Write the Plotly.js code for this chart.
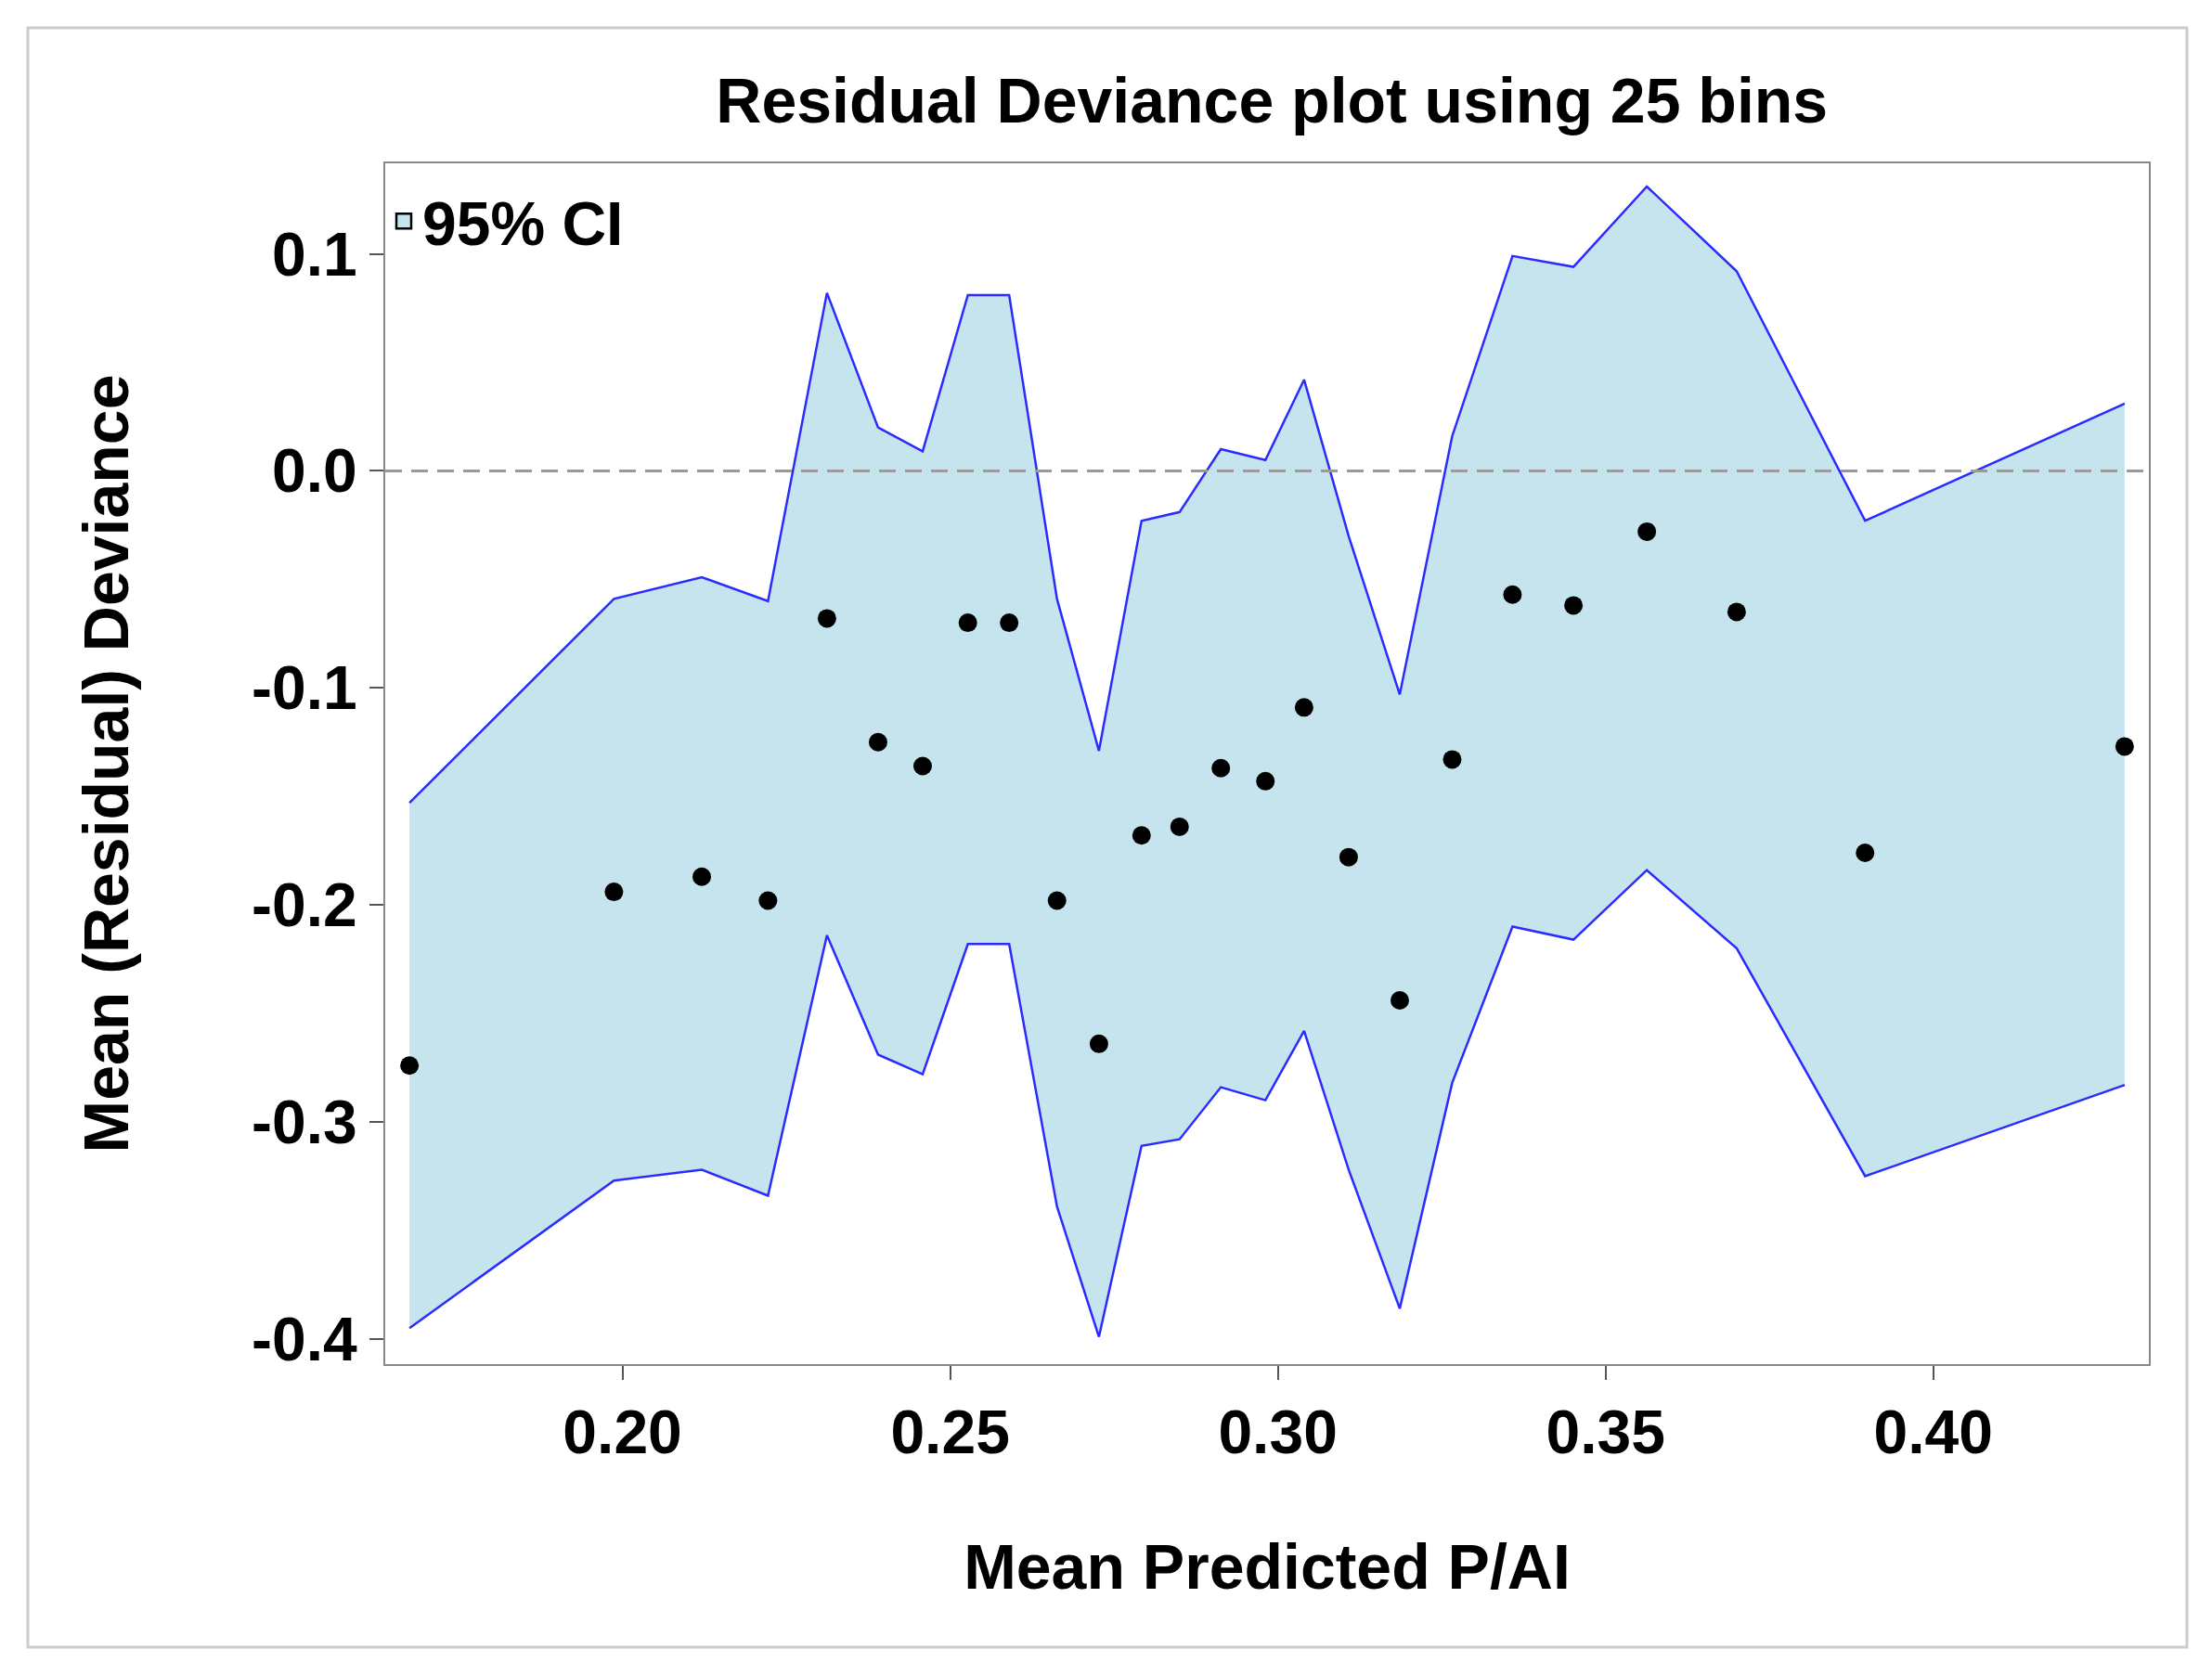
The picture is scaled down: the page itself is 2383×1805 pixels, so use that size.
<!DOCTYPE html>
<html><head><meta charset="utf-8">
<script src="https://cdn.plot.ly/plotly-3.0.1.min.js"></script>
<style>body{margin:0;background:#fff}#c{width:2383px;height:1805px}</style>
</head><body><div id="c"></div>
<script>
const meanPred=[0.1675,0.1987,0.2121,0.2222,0.2312,0.2390,0.2458,0.2527,0.2590,0.2663,0.2727,0.2792,0.2850,0.2913,0.2981,0.3040,0.3108,0.3186,0.3266,0.3358,0.3451,0.3563,0.3700,0.3896,0.4292];
const meanDev=[-0.274,-0.194,-0.187,-0.198,-0.068,-0.125,-0.136,-0.070,-0.070,-0.198,-0.264,-0.168,-0.164,-0.137,-0.143,-0.109,-0.178,-0.244,-0.133,-0.057,-0.062,-0.028,-0.065,-0.176,-0.127];
const upperCI=[-0.153,-0.059,-0.049,-0.060,0.082,0.020,0.009,0.081,0.081,-0.059,-0.129,-0.023,-0.019,0.010,0.005,0.042,-0.030,-0.103,0.016,0.099,0.094,0.131,0.092,-0.023,0.031];
const lowerCI=[-0.395,-0.327,-0.322,-0.334,-0.214,-0.269,-0.278,-0.218,-0.218,-0.339,-0.399,-0.311,-0.308,-0.284,-0.290,-0.258,-0.322,-0.386,-0.282,-0.210,-0.216,-0.184,-0.220,-0.325,-0.283];
const F='"Liberation Sans", Arial, sans-serif';
const data=[
 {x:meanPred,y:lowerCI,mode:'lines',line:{color:'#2b2bff',width:2.5},showlegend:false,hoverinfo:'skip'},
 {x:meanPred,y:upperCI,mode:'lines',fill:'tonexty',fillcolor:'#c6e4ee',line:{color:'#2b2bff',width:2.5},showlegend:false},
 {x:[null],y:[null],mode:'markers',marker:{symbol:'square',size:26,color:'#c6e4ee',line:{color:'#000',width:2.5}},name:'95% CI',showlegend:true},
 {x:meanPred,y:meanDev,mode:'markers',marker:{color:'#000',size:20},showlegend:false}
];
const layout={
 width:2383,height:1805,paper_bgcolor:'#fff',plot_bgcolor:'#fff',
 margin:{l:415,r:68,t:176,b:335},
 font:{family:F,color:'#000'},
 title:{text:'<b>Residual Deviance plot using 25 bins</b>',font:{size:68,family:F},x:0.575,xanchor:'center',yref:'container',y:0.94,yanchor:'middle'},
 xaxis:{range:[0.1638,0.4329],tickvals:[0.2,0.25,0.3,0.35,0.4],ticktext:['0.20','0.25','0.30','0.35','0.40'],
  tickfont:{size:66,family:F,weight:'bold'},ticks:'outside',ticklen:15,tickcolor:'#555',tickwidth:2,
  showline:true,linecolor:'#888',linewidth:2,mirror:true,showgrid:false,zeroline:false,
  title:{text:'<b>Mean Predicted P/AI</b>',font:{size:68,family:F},standoff:85}},
 yaxis:{range:[-0.4116,0.1417],tickvals:[-0.4,-0.3,-0.2,-0.1,0,0.1],ticktext:['-0.4','-0.3','-0.2','-0.1','0.0','0.1'],
  tickfont:{size:66,family:F,weight:'bold'},ticks:'outside',ticklen:15,tickcolor:'#555',tickwidth:2,
  showline:true,linecolor:'#888',linewidth:2,mirror:true,showgrid:false,zeroline:false,
  title:{text:'<b>Mean (Residual) Deviance</b>',font:{size:68,family:F},standoff:110}},
 legend:{x:0.0,y:0.99,xanchor:'left',yanchor:'top',bgcolor:'rgba(0,0,0,0)',font:{size:66,family:F,weight:'bold'}},
 shapes:[
  {type:'line',xref:'paper',yref:'y',x0:0,x1:1,y0:0,y1:0,line:{color:'#999',width:3,dash:'18px,10px'}},
  {type:'rect',xref:'paper',yref:'paper',x0:(30-415)/1900,x1:(2356-415)/1900,y0:(1805-335-1775)/1294,y1:(1805-335-30)/1294,line:{color:'#ccc',width:3}}
 ]
};
Plotly.newPlot('c',data,layout,{displayModeBar:false});
</script></body></html>
